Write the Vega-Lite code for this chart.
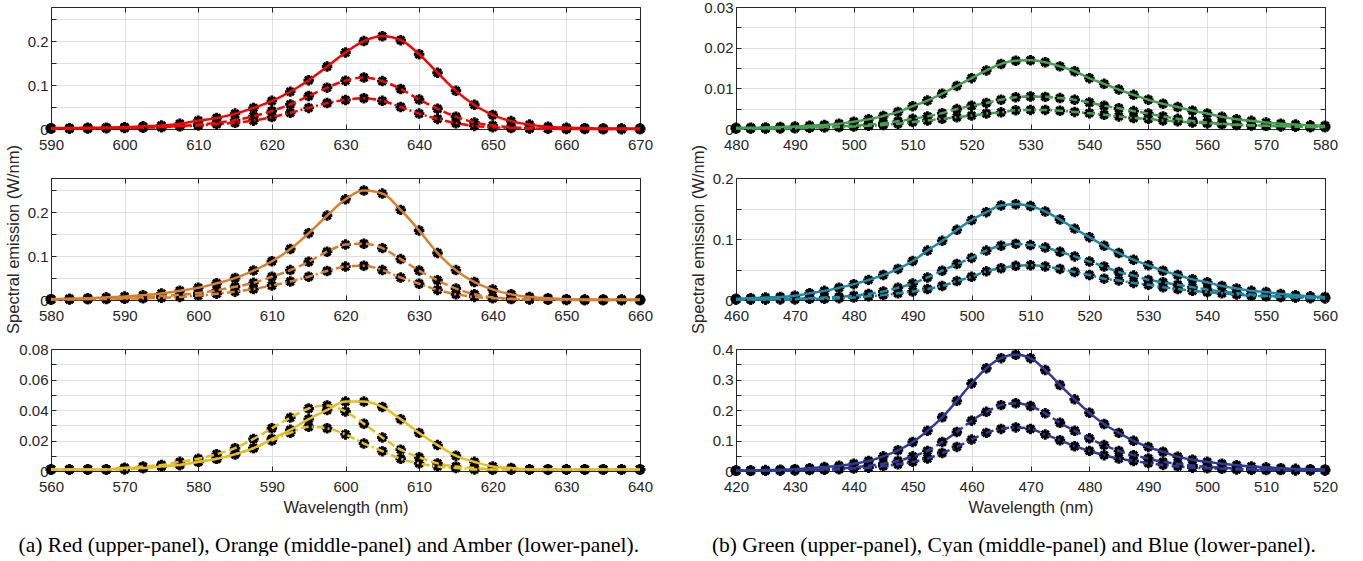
{
"$schema": "https://vega.github.io/schema/vega-lite/v6.json",
"background": "white",
"padding": {"left": 5, "top": 0, "right": 5, "bottom": 0},
"config": {
 "view": {"stroke": null},
 "axis": {"domainColor": "#262626", "domainWidth": 1, "tickColor": "#262626", "tickSize": -5, "tickWidth": 1, "labelFont": "Liberation Sans", "labelFontSize": 15, "labelColor": "#262626", "gridColor": "#dfdfdf", "gridWidth": 1, "gridOpacity": 1, "titleFont": "Liberation Sans", "titleFontSize": 16.5, "titleFontWeight": "normal", "titleColor": "#262626", "labelOverlap": false, "labelFlush": false, "labelBound": false},
 "axisX": {"labelPadding": 13, "titlePadding": 5},
 "axisY": {"labelPadding": 8, "titlePadding": 6}
},
"datasets": {
"red": [
{"x":590,"s":"a","y":0.002},{"x":592.5,"s":"a","y":0.002},{"x":595,"s":"a","y":0.003},{"x":597.5,"s":"a","y":0.003},{"x":600,"s":"a","y":0.004},{"x":602.5,"s":"a","y":0.006},{"x":605,"s":"a","y":0.008},{"x":607.5,"s":"a","y":0.012},{"x":610,"s":"a","y":0.019},{"x":612.5,"s":"a","y":0.025},{"x":615,"s":"a","y":0.035},{"x":617.5,"s":"a","y":0.048},{"x":620,"s":"a","y":0.064},{"x":622.5,"s":"a","y":0.085},{"x":625,"s":"a","y":0.111},{"x":627.5,"s":"a","y":0.142},{"x":630,"s":"a","y":0.174},{"x":632.5,"s":"a","y":0.2},{"x":635,"s":"a","y":0.211},{"x":637.5,"s":"a","y":0.202},{"x":640,"s":"a","y":0.17},{"x":642.5,"s":"a","y":0.128},{"x":645,"s":"a","y":0.087},{"x":647.5,"s":"a","y":0.055},{"x":650,"s":"a","y":0.032},{"x":652.5,"s":"a","y":0.018},{"x":655,"s":"a","y":0.01},{"x":657.5,"s":"a","y":0.005},{"x":660,"s":"a","y":0.003},{"x":662.5,"s":"a","y":0.002},{"x":665,"s":"a","y":0.001},{"x":667.5,"s":"a","y":0.001},{"x":670,"s":"a","y":0.001},
{"x":590,"s":"b","y":0.001},{"x":592.5,"s":"b","y":0.001},{"x":595,"s":"b","y":0.002},{"x":597.5,"s":"b","y":0.002},{"x":600,"s":"b","y":0.003},{"x":602.5,"s":"b","y":0.004},{"x":605,"s":"b","y":0.005},{"x":607.5,"s":"b","y":0.007},{"x":610,"s":"b","y":0.01},{"x":612.5,"s":"b","y":0.014},{"x":615,"s":"b","y":0.02},{"x":617.5,"s":"b","y":0.029},{"x":620,"s":"b","y":0.041},{"x":622.5,"s":"b","y":0.056},{"x":625,"s":"b","y":0.075},{"x":627.5,"s":"b","y":0.094},{"x":630,"s":"b","y":0.11},{"x":632.5,"s":"b","y":0.117},{"x":635,"s":"b","y":0.109},{"x":637.5,"s":"b","y":0.091},{"x":640,"s":"b","y":0.067},{"x":642.5,"s":"b","y":0.046},{"x":645,"s":"b","y":0.028},{"x":647.5,"s":"b","y":0.015},{"x":650,"s":"b","y":0.008},{"x":652.5,"s":"b","y":0.004},{"x":655,"s":"b","y":0.002},{"x":657.5,"s":"b","y":0.001},{"x":660,"s":"b","y":0.001},{"x":662.5,"s":"b","y":0.001},{"x":665,"s":"b","y":0},{"x":667.5,"s":"b","y":0},{"x":670,"s":"b","y":0},
{"x":590,"s":"c","y":0.001},{"x":592.5,"s":"c","y":0.001},{"x":595,"s":"c","y":0.001},{"x":597.5,"s":"c","y":0.002},{"x":600,"s":"c","y":0.002},{"x":602.5,"s":"c","y":0.003},{"x":605,"s":"c","y":0.004},{"x":607.5,"s":"c","y":0.006},{"x":610,"s":"c","y":0.008},{"x":612.5,"s":"c","y":0.011},{"x":615,"s":"c","y":0.014},{"x":617.5,"s":"c","y":0.019},{"x":620,"s":"c","y":0.027},{"x":622.5,"s":"c","y":0.037},{"x":625,"s":"c","y":0.048},{"x":627.5,"s":"c","y":0.059},{"x":630,"s":"c","y":0.066},{"x":632.5,"s":"c","y":0.07},{"x":635,"s":"c","y":0.064},{"x":637.5,"s":"c","y":0.05},{"x":640,"s":"c","y":0.035},{"x":642.5,"s":"c","y":0.023},{"x":645,"s":"c","y":0.013},{"x":647.5,"s":"c","y":0.007},{"x":650,"s":"c","y":0.004},{"x":652.5,"s":"c","y":0.002},{"x":655,"s":"c","y":0.001},{"x":657.5,"s":"c","y":0.001},{"x":660,"s":"c","y":0},{"x":662.5,"s":"c","y":0},{"x":665,"s":"c","y":0},{"x":667.5,"s":"c","y":0},{"x":670,"s":"c","y":0}
],
"orange": [
{"x":580,"s":"a","y":0.002},{"x":582.5,"s":"a","y":0.003},{"x":585,"s":"a","y":0.004},{"x":587.5,"s":"a","y":0.006},{"x":590,"s":"a","y":0.008},{"x":592.5,"s":"a","y":0.011},{"x":595,"s":"a","y":0.015},{"x":597.5,"s":"a","y":0.021},{"x":600,"s":"a","y":0.028},{"x":602.5,"s":"a","y":0.038},{"x":605,"s":"a","y":0.05},{"x":607.5,"s":"a","y":0.067},{"x":610,"s":"a","y":0.088},{"x":612.5,"s":"a","y":0.116},{"x":615,"s":"a","y":0.152},{"x":617.5,"s":"a","y":0.192},{"x":620,"s":"a","y":0.229},{"x":622.5,"s":"a","y":0.249},{"x":625,"s":"a","y":0.242},{"x":627.5,"s":"a","y":0.205},{"x":630,"s":"a","y":0.158},{"x":632.5,"s":"a","y":0.107},{"x":635,"s":"a","y":0.068},{"x":637.5,"s":"a","y":0.041},{"x":640,"s":"a","y":0.024},{"x":642.5,"s":"a","y":0.013},{"x":645,"s":"a","y":0.007},{"x":647.5,"s":"a","y":0.004},{"x":650,"s":"a","y":0.002},{"x":652.5,"s":"a","y":0.001},{"x":655,"s":"a","y":0.001},{"x":657.5,"s":"a","y":0.001},{"x":660,"s":"a","y":0.001},
{"x":580,"s":"b","y":0.001},{"x":582.5,"s":"b","y":0.002},{"x":585,"s":"b","y":0.002},{"x":587.5,"s":"b","y":0.003},{"x":590,"s":"b","y":0.004},{"x":592.5,"s":"b","y":0.006},{"x":595,"s":"b","y":0.009},{"x":597.5,"s":"b","y":0.012},{"x":600,"s":"b","y":0.016},{"x":602.5,"s":"b","y":0.022},{"x":605,"s":"b","y":0.03},{"x":607.5,"s":"b","y":0.039},{"x":610,"s":"b","y":0.053},{"x":612.5,"s":"b","y":0.068},{"x":615,"s":"b","y":0.087},{"x":617.5,"s":"b","y":0.11},{"x":620,"s":"b","y":0.126},{"x":622.5,"s":"b","y":0.128},{"x":625,"s":"b","y":0.118},{"x":627.5,"s":"b","y":0.093},{"x":630,"s":"b","y":0.067},{"x":632.5,"s":"b","y":0.045},{"x":635,"s":"b","y":0.026},{"x":637.5,"s":"b","y":0.013},{"x":640,"s":"b","y":0.006},{"x":642.5,"s":"b","y":0.003},{"x":645,"s":"b","y":0.002},{"x":647.5,"s":"b","y":0.001},{"x":650,"s":"b","y":0.001},{"x":652.5,"s":"b","y":0},{"x":655,"s":"b","y":0},{"x":657.5,"s":"b","y":0},{"x":660,"s":"b","y":0},
{"x":580,"s":"c","y":0.001},{"x":582.5,"s":"c","y":0.001},{"x":585,"s":"c","y":0.002},{"x":587.5,"s":"c","y":0.002},{"x":590,"s":"c","y":0.003},{"x":592.5,"s":"c","y":0.004},{"x":595,"s":"c","y":0.005},{"x":597.5,"s":"c","y":0.007},{"x":600,"s":"c","y":0.01},{"x":602.5,"s":"c","y":0.014},{"x":605,"s":"c","y":0.019},{"x":607.5,"s":"c","y":0.025},{"x":610,"s":"c","y":0.033},{"x":612.5,"s":"c","y":0.042},{"x":615,"s":"c","y":0.053},{"x":617.5,"s":"c","y":0.066},{"x":620,"s":"c","y":0.076},{"x":622.5,"s":"c","y":0.078},{"x":625,"s":"c","y":0.068},{"x":627.5,"s":"c","y":0.051},{"x":630,"s":"c","y":0.037},{"x":632.5,"s":"c","y":0.023},{"x":635,"s":"c","y":0.013},{"x":637.5,"s":"c","y":0.007},{"x":640,"s":"c","y":0.004},{"x":642.5,"s":"c","y":0.002},{"x":645,"s":"c","y":0.001},{"x":647.5,"s":"c","y":0.001},{"x":650,"s":"c","y":0},{"x":652.5,"s":"c","y":0},{"x":655,"s":"c","y":0},{"x":657.5,"s":"c","y":0},{"x":660,"s":"c","y":0}
],
"amber": [
{"x":560,"s":"a","y":0.001},{"x":562.5,"s":"a","y":0.001},{"x":565,"s":"a","y":0.001},{"x":567.5,"s":"a","y":0.001},{"x":570,"s":"a","y":0.002},{"x":572.5,"s":"a","y":0.002},{"x":575,"s":"a","y":0.003},{"x":577.5,"s":"a","y":0.004},{"x":580,"s":"a","y":0.006},{"x":582.5,"s":"a","y":0.008},{"x":585,"s":"a","y":0.011},{"x":587.5,"s":"a","y":0.015},{"x":590,"s":"a","y":0.021},{"x":592.5,"s":"a","y":0.027},{"x":595,"s":"a","y":0.034},{"x":597.5,"s":"a","y":0.04},{"x":600,"s":"a","y":0.0455},{"x":602.5,"s":"a","y":0.0455},{"x":605,"s":"a","y":0.042},{"x":607.5,"s":"a","y":0.034},{"x":610,"s":"a","y":0.025},{"x":612.5,"s":"a","y":0.017},{"x":615,"s":"a","y":0.01},{"x":617.5,"s":"a","y":0.006},{"x":620,"s":"a","y":0.003},{"x":622.5,"s":"a","y":0.002},{"x":625,"s":"a","y":0.001},{"x":627.5,"s":"a","y":0.001},{"x":630,"s":"a","y":0.001},{"x":632.5,"s":"a","y":0.001},{"x":635,"s":"a","y":0.001},{"x":637.5,"s":"a","y":0.001},{"x":640,"s":"a","y":0.001},
{"x":560,"s":"b","y":0.001},{"x":562.5,"s":"b","y":0.001},{"x":565,"s":"b","y":0.001},{"x":567.5,"s":"b","y":0.001},{"x":570,"s":"b","y":0.002},{"x":572.5,"s":"b","y":0.003},{"x":575,"s":"b","y":0.004},{"x":577.5,"s":"b","y":0.006},{"x":580,"s":"b","y":0.008},{"x":582.5,"s":"b","y":0.011},{"x":585,"s":"b","y":0.015},{"x":587.5,"s":"b","y":0.021},{"x":590,"s":"b","y":0.028},{"x":592.5,"s":"b","y":0.035},{"x":595,"s":"b","y":0.041},{"x":597.5,"s":"b","y":0.043},{"x":600,"s":"b","y":0.039},{"x":602.5,"s":"b","y":0.031},{"x":605,"s":"b","y":0.022},{"x":607.5,"s":"b","y":0.014},{"x":610,"s":"b","y":0.009},{"x":612.5,"s":"b","y":0.005},{"x":615,"s":"b","y":0.003},{"x":617.5,"s":"b","y":0.002},{"x":620,"s":"b","y":0.001},{"x":622.5,"s":"b","y":0.001},{"x":625,"s":"b","y":0.001},{"x":627.5,"s":"b","y":0.001},{"x":630,"s":"b","y":0.001},{"x":632.5,"s":"b","y":0.001},{"x":635,"s":"b","y":0.001},{"x":637.5,"s":"b","y":0.001},{"x":640,"s":"b","y":0.001},
{"x":560,"s":"c","y":0.001},{"x":562.5,"s":"c","y":0.001},{"x":565,"s":"c","y":0.001},{"x":567.5,"s":"c","y":0.001},{"x":570,"s":"c","y":0.001},{"x":572.5,"s":"c","y":0.002},{"x":575,"s":"c","y":0.003},{"x":577.5,"s":"c","y":0.004},{"x":580,"s":"c","y":0.006},{"x":582.5,"s":"c","y":0.008},{"x":585,"s":"c","y":0.011},{"x":587.5,"s":"c","y":0.015},{"x":590,"s":"c","y":0.02},{"x":592.5,"s":"c","y":0.025},{"x":595,"s":"c","y":0.029},{"x":597.5,"s":"c","y":0.028},{"x":600,"s":"c","y":0.024},{"x":602.5,"s":"c","y":0.018},{"x":605,"s":"c","y":0.013},{"x":607.5,"s":"c","y":0.008},{"x":610,"s":"c","y":0.005},{"x":612.5,"s":"c","y":0.003},{"x":615,"s":"c","y":0.002},{"x":617.5,"s":"c","y":0.001},{"x":620,"s":"c","y":0.001},{"x":622.5,"s":"c","y":0.001},{"x":625,"s":"c","y":0.001},{"x":627.5,"s":"c","y":0.001},{"x":630,"s":"c","y":0.001},{"x":632.5,"s":"c","y":0.001},{"x":635,"s":"c","y":0.001},{"x":637.5,"s":"c","y":0.001},{"x":640,"s":"c","y":0.001}
],
"green": [
{"x":480,"s":"a","y":0.0003},{"x":482.5,"s":"a","y":0.0003},{"x":485,"s":"a","y":0.0004},{"x":487.5,"s":"a","y":0.0005},{"x":490,"s":"a","y":0.0006},{"x":492.5,"s":"a","y":0.0008},{"x":495,"s":"a","y":0.001},{"x":497.5,"s":"a","y":0.0013},{"x":500,"s":"a","y":0.0018},{"x":502.5,"s":"a","y":0.0024},{"x":505,"s":"a","y":0.0032},{"x":507.5,"s":"a","y":0.0042},{"x":510,"s":"a","y":0.0056},{"x":512.5,"s":"a","y":0.007},{"x":515,"s":"a","y":0.0087},{"x":517.5,"s":"a","y":0.0106},{"x":520,"s":"a","y":0.0125},{"x":522.5,"s":"a","y":0.0144},{"x":525,"s":"a","y":0.016},{"x":527.5,"s":"a","y":0.0168},{"x":530,"s":"a","y":0.0169},{"x":532.5,"s":"a","y":0.0164},{"x":535,"s":"a","y":0.0154},{"x":537.5,"s":"a","y":0.0142},{"x":540,"s":"a","y":0.0125},{"x":542.5,"s":"a","y":0.0111},{"x":545,"s":"a","y":0.0097},{"x":547.5,"s":"a","y":0.0084},{"x":550,"s":"a","y":0.0072},{"x":552.5,"s":"a","y":0.0062},{"x":555,"s":"a","y":0.0054},{"x":557.5,"s":"a","y":0.0045},{"x":560,"s":"a","y":0.0038},{"x":562.5,"s":"a","y":0.003},{"x":565,"s":"a","y":0.0024},{"x":567.5,"s":"a","y":0.002},{"x":570,"s":"a","y":0.0016},{"x":572.5,"s":"a","y":0.0013},{"x":575,"s":"a","y":0.0011},{"x":577.5,"s":"a","y":0.0009},{"x":580,"s":"a","y":0.0008},
{"x":480,"s":"b","y":0.0001},{"x":482.5,"s":"b","y":0.0002},{"x":485,"s":"b","y":0.0002},{"x":487.5,"s":"b","y":0.0002},{"x":490,"s":"b","y":0.0003},{"x":492.5,"s":"b","y":0.0004},{"x":495,"s":"b","y":0.0005},{"x":497.5,"s":"b","y":0.0006},{"x":500,"s":"b","y":0.0008},{"x":502.5,"s":"b","y":0.0011},{"x":505,"s":"b","y":0.0014},{"x":507.5,"s":"b","y":0.0019},{"x":510,"s":"b","y":0.0025},{"x":512.5,"s":"b","y":0.0031},{"x":515,"s":"b","y":0.0039},{"x":517.5,"s":"b","y":0.0049},{"x":520,"s":"b","y":0.0057},{"x":522.5,"s":"b","y":0.0064},{"x":525,"s":"b","y":0.0072},{"x":527.5,"s":"b","y":0.0078},{"x":530,"s":"b","y":0.008},{"x":532.5,"s":"b","y":0.0079},{"x":535,"s":"b","y":0.0076},{"x":537.5,"s":"b","y":0.0072},{"x":540,"s":"b","y":0.0065},{"x":542.5,"s":"b","y":0.0057},{"x":545,"s":"b","y":0.0051},{"x":547.5,"s":"b","y":0.0044},{"x":550,"s":"b","y":0.0038},{"x":552.5,"s":"b","y":0.0031},{"x":555,"s":"b","y":0.0025},{"x":557.5,"s":"b","y":0.002},{"x":560,"s":"b","y":0.0016},{"x":562.5,"s":"b","y":0.0013},{"x":565,"s":"b","y":0.0011},{"x":567.5,"s":"b","y":0.0009},{"x":570,"s":"b","y":0.0008},{"x":572.5,"s":"b","y":0.0007},{"x":575,"s":"b","y":0.0006},{"x":577.5,"s":"b","y":0.0005},{"x":580,"s":"b","y":0.0005},
{"x":480,"s":"c","y":0.0001},{"x":482.5,"s":"c","y":0.0001},{"x":485,"s":"c","y":0.0001},{"x":487.5,"s":"c","y":0.0002},{"x":490,"s":"c","y":0.0002},{"x":492.5,"s":"c","y":0.0003},{"x":495,"s":"c","y":0.0004},{"x":497.5,"s":"c","y":0.0005},{"x":500,"s":"c","y":0.0006},{"x":502.5,"s":"c","y":0.0008},{"x":505,"s":"c","y":0.001},{"x":507.5,"s":"c","y":0.0013},{"x":510,"s":"c","y":0.0017},{"x":512.5,"s":"c","y":0.0021},{"x":515,"s":"c","y":0.0025},{"x":517.5,"s":"c","y":0.0029},{"x":520,"s":"c","y":0.0033},{"x":522.5,"s":"c","y":0.0038},{"x":525,"s":"c","y":0.0041},{"x":527.5,"s":"c","y":0.0046},{"x":530,"s":"c","y":0.0047},{"x":532.5,"s":"c","y":0.0047},{"x":535,"s":"c","y":0.0045},{"x":537.5,"s":"c","y":0.0042},{"x":540,"s":"c","y":0.0039},{"x":542.5,"s":"c","y":0.0035},{"x":545,"s":"c","y":0.0031},{"x":547.5,"s":"c","y":0.0027},{"x":550,"s":"c","y":0.0025},{"x":552.5,"s":"c","y":0.0021},{"x":555,"s":"c","y":0.0019},{"x":557.5,"s":"c","y":0.0016},{"x":560,"s":"c","y":0.0014},{"x":562.5,"s":"c","y":0.0012},{"x":565,"s":"c","y":0.001},{"x":567.5,"s":"c","y":0.0009},{"x":570,"s":"c","y":0.0008},{"x":572.5,"s":"c","y":0.0007},{"x":575,"s":"c","y":0.0006},{"x":577.5,"s":"c","y":0.0005},{"x":580,"s":"c","y":0.0005}
],
"cyan": [
{"x":460,"s":"a","y":0.002},{"x":462.5,"s":"a","y":0.003},{"x":465,"s":"a","y":0.004},{"x":467.5,"s":"a","y":0.005},{"x":470,"s":"a","y":0.007},{"x":472.5,"s":"a","y":0.011},{"x":475,"s":"a","y":0.015},{"x":477.5,"s":"a","y":0.02},{"x":480,"s":"a","y":0.026},{"x":482.5,"s":"a","y":0.033},{"x":485,"s":"a","y":0.041},{"x":487.5,"s":"a","y":0.051},{"x":490,"s":"a","y":0.064},{"x":492.5,"s":"a","y":0.081},{"x":495,"s":"a","y":0.097},{"x":497.5,"s":"a","y":0.115},{"x":500,"s":"a","y":0.131},{"x":502.5,"s":"a","y":0.144},{"x":505,"s":"a","y":0.155},{"x":507.5,"s":"a","y":0.157},{"x":510,"s":"a","y":0.154},{"x":512.5,"s":"a","y":0.145},{"x":515,"s":"a","y":0.132},{"x":517.5,"s":"a","y":0.117},{"x":520,"s":"a","y":0.103},{"x":522.5,"s":"a","y":0.089},{"x":525,"s":"a","y":0.077},{"x":527.5,"s":"a","y":0.066},{"x":530,"s":"a","y":0.057},{"x":532.5,"s":"a","y":0.048},{"x":535,"s":"a","y":0.041},{"x":537.5,"s":"a","y":0.034},{"x":540,"s":"a","y":0.029},{"x":542.5,"s":"a","y":0.023},{"x":545,"s":"a","y":0.019},{"x":547.5,"s":"a","y":0.015},{"x":550,"s":"a","y":0.013},{"x":552.5,"s":"a","y":0.01},{"x":555,"s":"a","y":0.008},{"x":557.5,"s":"a","y":0.006},{"x":560,"s":"a","y":0.005},
{"x":460,"s":"b","y":0.001},{"x":462.5,"s":"b","y":0.001},{"x":465,"s":"b","y":0.001},{"x":467.5,"s":"b","y":0.002},{"x":470,"s":"b","y":0.002},{"x":472.5,"s":"b","y":0.003},{"x":475,"s":"b","y":0.004},{"x":477.5,"s":"b","y":0.005},{"x":480,"s":"b","y":0.007},{"x":482.5,"s":"b","y":0.01},{"x":485,"s":"b","y":0.014},{"x":487.5,"s":"b","y":0.02},{"x":490,"s":"b","y":0.027},{"x":492.5,"s":"b","y":0.037},{"x":495,"s":"b","y":0.048},{"x":497.5,"s":"b","y":0.059},{"x":500,"s":"b","y":0.069},{"x":502.5,"s":"b","y":0.081},{"x":505,"s":"b","y":0.089},{"x":507.5,"s":"b","y":0.092},{"x":510,"s":"b","y":0.09},{"x":512.5,"s":"b","y":0.086},{"x":515,"s":"b","y":0.079},{"x":517.5,"s":"b","y":0.0715},{"x":520,"s":"b","y":0.063},{"x":522.5,"s":"b","y":0.055},{"x":525,"s":"b","y":0.046},{"x":527.5,"s":"b","y":0.04},{"x":530,"s":"b","y":0.033},{"x":532.5,"s":"b","y":0.029},{"x":535,"s":"b","y":0.025},{"x":537.5,"s":"b","y":0.021},{"x":540,"s":"b","y":0.017},{"x":542.5,"s":"b","y":0.014},{"x":545,"s":"b","y":0.011},{"x":547.5,"s":"b","y":0.009},{"x":550,"s":"b","y":0.007},{"x":552.5,"s":"b","y":0.006},{"x":555,"s":"b","y":0.005},{"x":557.5,"s":"b","y":0.004},{"x":560,"s":"b","y":0.003},
{"x":460,"s":"c","y":0.001},{"x":462.5,"s":"c","y":0.001},{"x":465,"s":"c","y":0.001},{"x":467.5,"s":"c","y":0.001},{"x":470,"s":"c","y":0.001},{"x":472.5,"s":"c","y":0.002},{"x":475,"s":"c","y":0.002},{"x":477.5,"s":"c","y":0.003},{"x":480,"s":"c","y":0.004},{"x":482.5,"s":"c","y":0.006},{"x":485,"s":"c","y":0.008},{"x":487.5,"s":"c","y":0.011},{"x":490,"s":"c","y":0.014},{"x":492.5,"s":"c","y":0.018},{"x":495,"s":"c","y":0.023},{"x":497.5,"s":"c","y":0.031},{"x":500,"s":"c","y":0.038},{"x":502.5,"s":"c","y":0.047},{"x":505,"s":"c","y":0.052},{"x":507.5,"s":"c","y":0.056},{"x":510,"s":"c","y":0.057},{"x":512.5,"s":"c","y":0.055},{"x":515,"s":"c","y":0.051},{"x":517.5,"s":"c","y":0.046},{"x":520,"s":"c","y":0.041},{"x":522.5,"s":"c","y":0.035},{"x":525,"s":"c","y":0.032},{"x":527.5,"s":"c","y":0.028},{"x":530,"s":"c","y":0.025},{"x":532.5,"s":"c","y":0.021},{"x":535,"s":"c","y":0.018},{"x":537.5,"s":"c","y":0.015},{"x":540,"s":"c","y":0.013},{"x":542.5,"s":"c","y":0.011},{"x":545,"s":"c","y":0.009},{"x":547.5,"s":"c","y":0.007},{"x":550,"s":"c","y":0.006},{"x":552.5,"s":"c","y":0.005},{"x":555,"s":"c","y":0.004},{"x":557.5,"s":"c","y":0.003},{"x":560,"s":"c","y":0.003}
],
"blue": [
{"x":420,"s":"a","y":0.002},{"x":422.5,"s":"a","y":0.002},{"x":425,"s":"a","y":0.003},{"x":427.5,"s":"a","y":0.004},{"x":430,"s":"a","y":0.006},{"x":432.5,"s":"a","y":0.009},{"x":435,"s":"a","y":0.013},{"x":437.5,"s":"a","y":0.017},{"x":440,"s":"a","y":0.024},{"x":442.5,"s":"a","y":0.033},{"x":445,"s":"a","y":0.048},{"x":447.5,"s":"a","y":0.068},{"x":450,"s":"a","y":0.095},{"x":452.5,"s":"a","y":0.132},{"x":455,"s":"a","y":0.176},{"x":457.5,"s":"a","y":0.23},{"x":460,"s":"a","y":0.287},{"x":462.5,"s":"a","y":0.337},{"x":465,"s":"a","y":0.37},{"x":467.5,"s":"a","y":0.381},{"x":470,"s":"a","y":0.37},{"x":472.5,"s":"a","y":0.331},{"x":475,"s":"a","y":0.282},{"x":477.5,"s":"a","y":0.235},{"x":480,"s":"a","y":0.191},{"x":482.5,"s":"a","y":0.154},{"x":485,"s":"a","y":0.125},{"x":487.5,"s":"a","y":0.099},{"x":490,"s":"a","y":0.079},{"x":492.5,"s":"a","y":0.063},{"x":495,"s":"a","y":0.047},{"x":497.5,"s":"a","y":0.037},{"x":500,"s":"a","y":0.03},{"x":502.5,"s":"a","y":0.024},{"x":505,"s":"a","y":0.019},{"x":507.5,"s":"a","y":0.015},{"x":510,"s":"a","y":0.012},{"x":512.5,"s":"a","y":0.009},{"x":515,"s":"a","y":0.007},{"x":517.5,"s":"a","y":0.006},{"x":520,"s":"a","y":0.005},
{"x":420,"s":"b","y":0.001},{"x":422.5,"s":"b","y":0.001},{"x":425,"s":"b","y":0.002},{"x":427.5,"s":"b","y":0.002},{"x":430,"s":"b","y":0.003},{"x":432.5,"s":"b","y":0.004},{"x":435,"s":"b","y":0.006},{"x":437.5,"s":"b","y":0.008},{"x":440,"s":"b","y":0.012},{"x":442.5,"s":"b","y":0.017},{"x":445,"s":"b","y":0.024},{"x":447.5,"s":"b","y":0.033},{"x":450,"s":"b","y":0.048},{"x":452.5,"s":"b","y":0.066},{"x":455,"s":"b","y":0.095},{"x":457.5,"s":"b","y":0.128},{"x":460,"s":"b","y":0.165},{"x":462.5,"s":"b","y":0.194},{"x":465,"s":"b","y":0.216},{"x":467.5,"s":"b","y":0.222},{"x":470,"s":"b","y":0.213},{"x":472.5,"s":"b","y":0.189},{"x":475,"s":"b","y":0.158},{"x":477.5,"s":"b","y":0.132},{"x":480,"s":"b","y":0.107},{"x":482.5,"s":"b","y":0.085},{"x":485,"s":"b","y":0.066},{"x":487.5,"s":"b","y":0.052},{"x":490,"s":"b","y":0.041},{"x":492.5,"s":"b","y":0.03},{"x":495,"s":"b","y":0.024},{"x":497.5,"s":"b","y":0.018},{"x":500,"s":"b","y":0.014},{"x":502.5,"s":"b","y":0.011},{"x":505,"s":"b","y":0.008},{"x":507.5,"s":"b","y":0.006},{"x":510,"s":"b","y":0.005},{"x":512.5,"s":"b","y":0.004},{"x":515,"s":"b","y":0.003},{"x":517.5,"s":"b","y":0.003},{"x":520,"s":"b","y":0.002},
{"x":420,"s":"c","y":0.001},{"x":422.5,"s":"c","y":0.001},{"x":425,"s":"c","y":0.001},{"x":427.5,"s":"c","y":0.002},{"x":430,"s":"c","y":0.002},{"x":432.5,"s":"c","y":0.003},{"x":435,"s":"c","y":0.004},{"x":437.5,"s":"c","y":0.006},{"x":440,"s":"c","y":0.008},{"x":442.5,"s":"c","y":0.011},{"x":445,"s":"c","y":0.016},{"x":447.5,"s":"c","y":0.022},{"x":450,"s":"c","y":0.03},{"x":452.5,"s":"c","y":0.041},{"x":455,"s":"c","y":0.059},{"x":457.5,"s":"c","y":0.079},{"x":460,"s":"c","y":0.103},{"x":462.5,"s":"c","y":0.125},{"x":465,"s":"c","y":0.138},{"x":467.5,"s":"c","y":0.143},{"x":470,"s":"c","y":0.138},{"x":472.5,"s":"c","y":0.12},{"x":475,"s":"c","y":0.101},{"x":477.5,"s":"c","y":0.081},{"x":480,"s":"c","y":0.066},{"x":482.5,"s":"c","y":0.052},{"x":485,"s":"c","y":0.041},{"x":487.5,"s":"c","y":0.033},{"x":490,"s":"c","y":0.026},{"x":492.5,"s":"c","y":0.02},{"x":495,"s":"c","y":0.015},{"x":497.5,"s":"c","y":0.011},{"x":500,"s":"c","y":0.009},{"x":502.5,"s":"c","y":0.007},{"x":505,"s":"c","y":0.005},{"x":507.5,"s":"c","y":0.004},{"x":510,"s":"c","y":0.003},{"x":512.5,"s":"c","y":0.003},{"x":515,"s":"c","y":0.002},{"x":517.5,"s":"c","y":0.002},{"x":520,"s":"c","y":0.002}
]
},
"spacing": 37,
"hconcat": [
{
 "spacing": 49,
 "bounds": "flush",
 "title": {"text": "(a) Red (upper-panel), Orange (middle-panel) and Amber (lower-panel).", "orient": "bottom", "anchor": "middle", "frame": "bounds", "font": "Liberation Serif", "fontSize": 21.5, "fontWeight": "normal", "color": "#000000", "offset": 19},
 "vconcat": [
  {
   "width": 589, "height": 122,
   "data": {"name": "red"},
   "layer": [
    {"mark": {"type": "point", "shape": "M-1,0L1,0M0,-1L0,1M-0.7,-0.7L0.7,0.7M-0.7,0.7L0.7,-0.7", "filled": false, "color": "black", "size": 110, "strokeWidth": 2.9, "opacity": 1},
     "encoding": {
      "x": {"field": "x", "type": "quantitative", "scale": {"domain": [590, 670], "nice": false, "zero": false}, "axis": {"orient": "bottom", "values": [590,600,610,620,630,640,650,660,670], "grid": true, "title": null}},
      "y": {"field": "y", "type": "quantitative", "scale": {"domain": [0, 0.2775], "nice": false}, "axis": {"orient": "left", "values": [0,0.05,0.1,0.15,0.2,0.25], "grid": true, "title": null, "labelExpr": "abs(datum.value) < 1e-9 ? '0' : (abs(round(datum.value*10) - datum.value*10) < 1e-6 ? format(datum.value, '.1f') : '')"}}
     }},
    {"mark": {"type": "line", "color": "#ff0000", "strokeWidth": 2.5, "interpolate": "monotone"},
     "encoding": {
      "x": {"field": "x", "type": "quantitative", "scale": {"domain": [590, 670], "nice": false, "zero": false}, "axis": {"orient": "top", "values": [590,600,610,620,630,640,650,660,670], "grid": false, "labels": false, "title": null}},
      "y": {"field": "y", "type": "quantitative", "scale": {"domain": [0, 0.2775], "nice": false}, "axis": {"orient": "right", "values": [0,0.05,0.1,0.15,0.2,0.25], "grid": false, "labels": false, "title": null}},
      "strokeDash": {"field": "s", "type": "nominal", "scale": {"domain": ["a","b","c"], "range": [[1,0],[8,4],[8,3,2,3]]}, "legend": null}
     }}
   ],
   "resolve": {"axis": {"x": "independent", "y": "independent"}}
  },
  {
   "width": 589, "height": 122,
   "data": {"name": "orange"},
   "layer": [
    {"mark": {"type": "point", "shape": "M-1,0L1,0M0,-1L0,1M-0.7,-0.7L0.7,0.7M-0.7,0.7L0.7,-0.7", "filled": false, "color": "black", "size": 110, "strokeWidth": 2.9, "opacity": 1},
     "encoding": {
      "x": {"field": "x", "type": "quantitative", "scale": {"domain": [580, 660], "nice": false, "zero": false}, "axis": {"orient": "bottom", "values": [580,590,600,610,620,630,640,650,660], "grid": true, "title": null}},
      "y": {"field": "y", "type": "quantitative", "scale": {"domain": [0, 0.2775], "nice": false}, "axis": {"orient": "left", "values": [0,0.05,0.1,0.15,0.2,0.25], "grid": true, "title": "Spectral emission (W/nm)", "labelExpr": "abs(datum.value) < 1e-9 ? '0' : (abs(round(datum.value*10) - datum.value*10) < 1e-6 ? format(datum.value, '.1f') : '')"}}
     }},
    {"mark": {"type": "line", "color": "#d97f2e", "strokeWidth": 2.5, "interpolate": "monotone"},
     "encoding": {
      "x": {"field": "x", "type": "quantitative", "scale": {"domain": [580, 660], "nice": false, "zero": false}, "axis": {"orient": "top", "values": [580,590,600,610,620,630,640,650,660], "grid": false, "labels": false, "title": null}},
      "y": {"field": "y", "type": "quantitative", "scale": {"domain": [0, 0.2775], "nice": false}, "axis": {"orient": "right", "values": [0,0.05,0.1,0.15,0.2,0.25], "grid": false, "labels": false, "title": null}},
      "strokeDash": {"field": "s", "type": "nominal", "scale": {"domain": ["a","b","c"], "range": [[1,0],[8,4],[8,3,2,3]]}, "legend": null}
     }}
   ],
   "resolve": {"axis": {"x": "independent", "y": "independent"}}
  },
  {
   "width": 589, "height": 122,
   "data": {"name": "amber"},
   "layer": [
    {"mark": {"type": "point", "shape": "M-1,0L1,0M0,-1L0,1M-0.7,-0.7L0.7,0.7M-0.7,0.7L0.7,-0.7", "filled": false, "color": "black", "size": 110, "strokeWidth": 2.9, "opacity": 1},
     "encoding": {
      "x": {"field": "x", "type": "quantitative", "scale": {"domain": [560, 640], "nice": false, "zero": false}, "axis": {"orient": "bottom", "values": [560,570,580,590,600,610,620,630,640], "grid": true, "title": "Wavelength (nm)"}},
      "y": {"field": "y", "type": "quantitative", "scale": {"domain": [0, 0.08], "nice": false}, "axis": {"orient": "left", "values": [0,0.01,0.02,0.03,0.04,0.05,0.06,0.07,0.08], "grid": true, "title": null, "labelExpr": "abs(datum.value) < 1e-9 ? '0' : (abs(round(datum.value*50) - datum.value*50) < 1e-6 ? format(datum.value, '.2f') : '')"}}
     }},
    {"mark": {"type": "line", "color": "#e5bf1f", "strokeWidth": 2.5, "interpolate": "monotone"},
     "encoding": {
      "x": {"field": "x", "type": "quantitative", "scale": {"domain": [560, 640], "nice": false, "zero": false}, "axis": {"orient": "top", "values": [560,570,580,590,600,610,620,630,640], "grid": false, "labels": false, "title": null}},
      "y": {"field": "y", "type": "quantitative", "scale": {"domain": [0, 0.08], "nice": false}, "axis": {"orient": "right", "values": [0,0.01,0.02,0.03,0.04,0.05,0.06,0.07,0.08], "grid": false, "labels": false, "title": null}},
      "strokeDash": {"field": "s", "type": "nominal", "scale": {"domain": ["a","b","c"], "range": [[1,0],[8,4],[8,3,2,3]]}, "legend": null}
     }}
   ],
   "resolve": {"axis": {"x": "independent", "y": "independent"}}
  }
 ]
},
{
 "spacing": 49,
 "bounds": "flush",
 "title": {"text": "(b) Green (upper-panel), Cyan (middle-panel) and Blue (lower-panel).", "orient": "bottom", "anchor": "middle", "frame": "bounds", "font": "Liberation Serif", "fontSize": 21.5, "fontWeight": "normal", "color": "#000000", "offset": 19},
 "vconcat": [
  {
   "width": 589, "height": 122,
   "data": {"name": "green"},
   "layer": [
    {"mark": {"type": "point", "shape": "M-1,0L1,0M0,-1L0,1M-0.7,-0.7L0.7,0.7M-0.7,0.7L0.7,-0.7", "filled": false, "color": "black", "size": 110, "strokeWidth": 2.9, "opacity": 1},
     "encoding": {
      "x": {"field": "x", "type": "quantitative", "scale": {"domain": [480, 580], "nice": false, "zero": false}, "axis": {"orient": "bottom", "values": [480,490,500,510,520,530,540,550,560,570,580], "grid": true, "title": null}},
      "y": {"field": "y", "type": "quantitative", "scale": {"domain": [0, 0.03], "nice": false}, "axis": {"orient": "left", "values": [0,0.005,0.01,0.015,0.02,0.025,0.03], "grid": true, "title": null, "labelExpr": "abs(datum.value) < 1e-9 ? '0' : (abs(round(datum.value*100) - datum.value*100) < 1e-6 ? format(datum.value, '.2f') : '')"}}
     }},
    {"mark": {"type": "line", "color": "#45a04f", "strokeWidth": 2.5, "interpolate": "monotone"},
     "encoding": {
      "x": {"field": "x", "type": "quantitative", "scale": {"domain": [480, 580], "nice": false, "zero": false}, "axis": {"orient": "top", "values": [480,490,500,510,520,530,540,550,560,570,580], "grid": false, "labels": false, "title": null}},
      "y": {"field": "y", "type": "quantitative", "scale": {"domain": [0, 0.03], "nice": false}, "axis": {"orient": "right", "values": [0,0.005,0.01,0.015,0.02,0.025,0.03], "grid": false, "labels": false, "title": null}},
      "strokeDash": {"field": "s", "type": "nominal", "scale": {"domain": ["a","b","c"], "range": [[1,0],[8,4],[8,3,2,3]]}, "legend": null}
     }}
   ],
   "resolve": {"axis": {"x": "independent", "y": "independent"}}
  },
  {
   "width": 589, "height": 122,
   "data": {"name": "cyan"},
   "layer": [
    {"mark": {"type": "point", "shape": "M-1,0L1,0M0,-1L0,1M-0.7,-0.7L0.7,0.7M-0.7,0.7L0.7,-0.7", "filled": false, "color": "black", "size": 110, "strokeWidth": 2.9, "opacity": 1},
     "encoding": {
      "x": {"field": "x", "type": "quantitative", "scale": {"domain": [460, 560], "nice": false, "zero": false}, "axis": {"orient": "bottom", "values": [460,470,480,490,500,510,520,530,540,550,560], "grid": true, "title": null}},
      "y": {"field": "y", "type": "quantitative", "scale": {"domain": [0, 0.2], "nice": false}, "axis": {"orient": "left", "values": [0,0.05,0.1,0.15,0.2], "grid": true, "title": "Spectral emission (W/nm)", "labelExpr": "abs(datum.value) < 1e-9 ? '0' : (abs(round(datum.value*10) - datum.value*10) < 1e-6 ? format(datum.value, '.1f') : '')"}}
     }},
    {"mark": {"type": "line", "color": "#1c8ba6", "strokeWidth": 2.5, "interpolate": "monotone"},
     "encoding": {
      "x": {"field": "x", "type": "quantitative", "scale": {"domain": [460, 560], "nice": false, "zero": false}, "axis": {"orient": "top", "values": [460,470,480,490,500,510,520,530,540,550,560], "grid": false, "labels": false, "title": null}},
      "y": {"field": "y", "type": "quantitative", "scale": {"domain": [0, 0.2], "nice": false}, "axis": {"orient": "right", "values": [0,0.05,0.1,0.15,0.2], "grid": false, "labels": false, "title": null}},
      "strokeDash": {"field": "s", "type": "nominal", "scale": {"domain": ["a","b","c"], "range": [[1,0],[8,4],[8,3,2,3]]}, "legend": null}
     }}
   ],
   "resolve": {"axis": {"x": "independent", "y": "independent"}}
  },
  {
   "width": 589, "height": 122,
   "data": {"name": "blue"},
   "layer": [
    {"mark": {"type": "point", "shape": "M-1,0L1,0M0,-1L0,1M-0.7,-0.7L0.7,0.7M-0.7,0.7L0.7,-0.7", "filled": false, "color": "black", "size": 110, "strokeWidth": 2.9, "opacity": 1},
     "encoding": {
      "x": {"field": "x", "type": "quantitative", "scale": {"domain": [420, 520], "nice": false, "zero": false}, "axis": {"orient": "bottom", "values": [420,430,440,450,460,470,480,490,500,510,520], "grid": true, "title": "Wavelength (nm)"}},
      "y": {"field": "y", "type": "quantitative", "scale": {"domain": [0, 0.4], "nice": false}, "axis": {"orient": "left", "values": [0,0.05,0.1,0.15,0.2,0.25,0.3,0.35,0.4], "grid": true, "title": null, "labelExpr": "abs(datum.value) < 1e-9 ? '0' : (abs(round(datum.value*10) - datum.value*10) < 1e-6 ? format(datum.value, '.1f') : '')"}}
     }},
    {"mark": {"type": "line", "color": "#2f3a98", "strokeWidth": 2.5, "interpolate": "monotone"},
     "encoding": {
      "x": {"field": "x", "type": "quantitative", "scale": {"domain": [420, 520], "nice": false, "zero": false}, "axis": {"orient": "top", "values": [420,430,440,450,460,470,480,490,500,510,520], "grid": false, "labels": false, "title": null}},
      "y": {"field": "y", "type": "quantitative", "scale": {"domain": [0, 0.4], "nice": false}, "axis": {"orient": "right", "values": [0,0.05,0.1,0.15,0.2,0.25,0.3,0.35,0.4], "grid": false, "labels": false, "title": null}},
      "strokeDash": {"field": "s", "type": "nominal", "scale": {"domain": ["a","b","c"], "range": [[1,0],[8,4],[8,3,2,3]]}, "legend": null}
     }}
   ],
   "resolve": {"axis": {"x": "independent", "y": "independent"}}
  }
 ]
}
]
}
